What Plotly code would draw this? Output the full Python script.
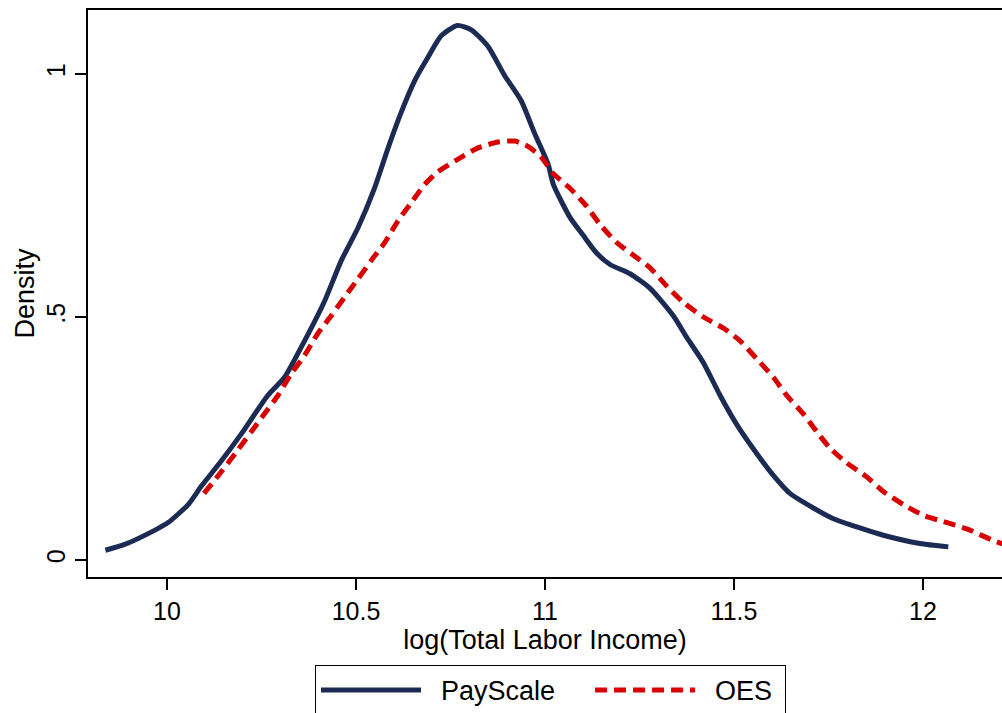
import plotly.graph_objects as go

# PayScale kernel density
pay_x = [9.837, 9.888, 9.967, 10.003, 10.056, 10.091, 10.144, 10.197, 10.267, 10.311,
         10.364, 10.417, 10.461, 10.505, 10.549, 10.585, 10.620, 10.655, 10.690, 10.726,
         10.768, 10.805, 10.849, 10.893, 10.937, 10.973, 11.008, 11.022, 11.066, 11.101,
         11.137, 11.172, 11.225, 11.278, 11.339, 11.375, 11.419, 11.463, 11.507, 11.560,
         11.604, 11.648, 11.710, 11.763, 11.833, 11.895, 11.992, 12.067]
pay_y = [0.020, 0.032, 0.061, 0.077, 0.114, 0.152, 0.204, 0.260, 0.339, 0.376,
         0.451, 0.533, 0.616, 0.683, 0.765, 0.848, 0.922, 0.986, 1.034, 1.079,
         1.100, 1.091, 1.057, 0.997, 0.945, 0.877, 0.815, 0.773, 0.705, 0.668,
         0.631, 0.608, 0.589, 0.559, 0.503, 0.458, 0.406, 0.339, 0.279, 0.219,
         0.174, 0.137, 0.107, 0.085, 0.066, 0.051, 0.034, 0.027]

# OES kernel density
oes_x = [10.098, 10.144, 10.188, 10.223, 10.258, 10.294, 10.329, 10.364, 10.399, 10.435,
         10.470, 10.505, 10.540, 10.576, 10.611, 10.646, 10.682, 10.717, 10.770, 10.823,
         10.876, 10.920, 10.955, 10.990, 11.022, 11.066, 11.110, 11.146, 11.190, 11.234,
         11.278, 11.323, 11.366, 11.419, 11.472, 11.516, 11.560, 11.604, 11.639, 11.683,
         11.719, 11.754, 11.798, 11.851, 11.895, 11.948, 12.001, 12.054, 12.116, 12.186,
         12.230]
oes_y = [0.137, 0.182, 0.227, 0.264, 0.301, 0.339, 0.384, 0.421, 0.466, 0.503,
         0.541, 0.578, 0.616, 0.653, 0.698, 0.735, 0.773, 0.799, 0.825, 0.848,
         0.860, 0.862, 0.851, 0.829, 0.795, 0.765, 0.728, 0.690, 0.653, 0.627,
         0.601, 0.563, 0.530, 0.500, 0.477, 0.451, 0.414, 0.376, 0.339, 0.301,
         0.264, 0.230, 0.200, 0.171, 0.141, 0.114, 0.092, 0.079, 0.064, 0.040,
         0.028]

x_ticks = [10, 10.5, 11, 11.5, 12]
x_tick_text = ["10", "10.5", "11", "11.5", "12"]
y_ticks = [0, 0.5, 1]
y_tick_text = ["0", ".5", "1"]

NAVY = "#1c2b53"
RED = "#d90000"
FONT = "Liberation Sans, Arial, sans-serif"
NB = "\u00a0"

fig = go.Figure()
fig.add_trace(go.Scatter(x=pay_x, y=pay_y, mode="lines", name=NB * 2 + "PayScale" + NB * 4,
                         line=dict(color=NAVY, width=5, shape="spline", smoothing=0.6)))
fig.add_trace(go.Scatter(x=oes_x, y=oes_y, mode="lines", name=NB * 2 + "OES" + NB,
                         line=dict(color=RED, width=5, dash="12px,7px", shape="spline", smoothing=0.6)))

fig.update_layout(
    width=1002, height=713,
    margin=dict(l=88, r=0, t=10, b=136, autoexpand=False),
    paper_bgcolor="white", plot_bgcolor="white",
    font=dict(family=FONT, size=25, color="black"),
    showlegend=True,
    legend=dict(orientation="h", x=0.506, xanchor="center", y=-0.155, yanchor="top",
                bordercolor="black", borderwidth=1, bgcolor="white",
                font=dict(family=FONT, size=27, color="black"),
                itemwidth=100, tracegroupgap=0),
    xaxis=dict(range=[9.791, 12.209], tickvals=x_ticks, ticktext=x_tick_text,
               showgrid=False, zeroline=False, showline=True, linecolor="black",
               linewidth=2, mirror=True, ticks="outside", ticklen=11, tickwidth=1.5,
               tickcolor="black",
               title=dict(text="log(Total Labor Income)", standoff=0,
                          font=dict(family=FONT, size=27))),
    yaxis=dict(range=[-0.035, 1.1317], tickvals=y_ticks, ticktext=y_tick_text,
               showgrid=False, zeroline=False, showline=True, linecolor="black",
               linewidth=2, mirror=False, ticks="outside", ticklen=11, tickwidth=1.5,
               tickcolor="black", tickangle=-90,
               title=dict(text="Density", standoff=0,
                          font=dict(family=FONT, size=27))),
)

fig.write_html("out.html")
